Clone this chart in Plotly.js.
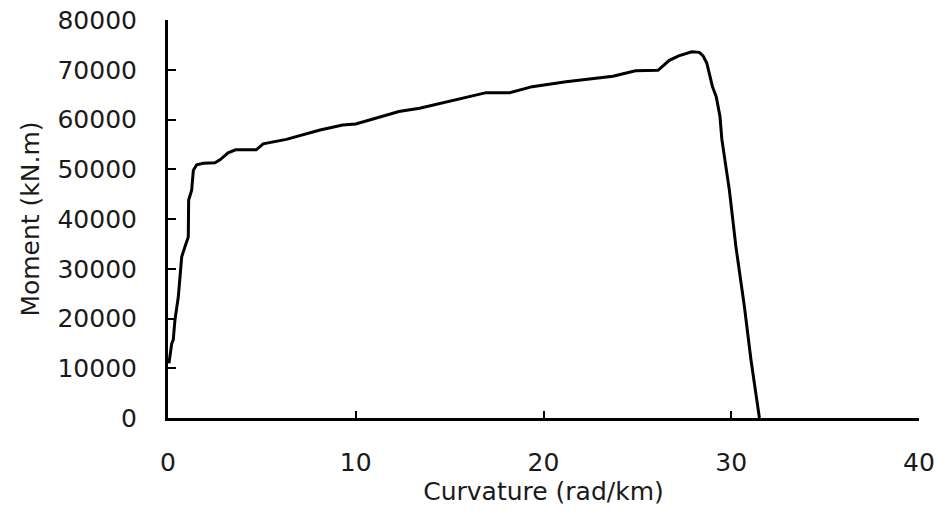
<!DOCTYPE html>
<html>
<head>
<meta charset="utf-8">
<script src="https://cdn.plot.ly/plotly-3.0.1.min.js"></script>
<style>html,body{margin:0;padding:0;background:#fff;}#chart{width:936px;height:516px;}</style>
</head>
<body>
<div id="chart"></div>
<script>
const curvature = [0.05, 0.2, 0.28, 0.37, 0.55, 0.73, 0.9, 1.08, 1.1, 1.26, 1.35, 1.53, 1.88, 2.5, 2.77, 3.2, 3.6, 4.7, 5.07, 5.4, 6.3, 8.1, 9.3, 10.0, 11.6, 12.3, 13.4, 14.1, 15.5, 16.95, 18.2, 19.4, 21.2, 23.0, 23.7, 24.9, 26.1, 26.7, 27.2, 27.9, 28.3, 28.5, 28.7, 29.0, 29.2, 29.4, 29.5, 29.9, 30.25, 30.7, 31.05, 31.5];
const moment = [11000, 15000, 15700, 19700, 24400, 32400, 34400, 36400, 43800, 45800, 49800, 50900, 51200, 51300, 51900, 53300, 53900, 53900, 55100, 55300, 56000, 57900, 58900, 59100, 60900, 61600, 62250, 62900, 64060, 65400, 65400, 66600, 67600, 68500, 68700, 69800, 69900, 71900, 72800, 73600, 73500, 72800, 71300, 66600, 64600, 60600, 56000, 45800, 34400, 22400, 11700, 0];
const xTicks = [0, 10, 20, 30, 40];
const yTicks = [0, 10000, 20000, 30000, 40000, 50000, 60000, 70000, 80000];
const xTitle = 'Curvature (rad/km)';
const yTitle = 'Moment (kN.m)';

const fontFam = 'DejaVu Sans, Liberation Sans, Arial, sans-serif';
const trace = {
  x: curvature, y: moment, type: 'scatter', mode: 'lines',
  line: {color: '#000', width: 3}, hoverinfo: 'none', showlegend: false
};
const layout = {
  width: 936, height: 516,
  margin: {l: 168, r: 17, t: 20, b: 98},
  paper_bgcolor: '#fff', plot_bgcolor: '#fff',
  font: {family: fontFam, size: 25, color: '#1a1a1a'},
  xaxis: {
    range: [0, 40], tickvals: xTicks, ticktext: xTicks.map(String),
    showgrid: false, zeroline: false, showline: true, linecolor: '#000', linewidth: 3,
    ticks: 'inside', ticklen: 7, tickwidth: 2, tickcolor: '#000',
    ticklabelstandoff: 20,
    title: {text: xTitle, font: {family: fontFam, size: 25, color: '#1a1a1a'}, standoff: 5}
  },
  yaxis: {
    range: [0, 80000], tickvals: yTicks, ticktext: yTicks.map(String),
    showgrid: false, zeroline: false, showline: true, linecolor: '#000', linewidth: 3,
    ticks: 'inside', ticklen: 8, tickwidth: 2, tickcolor: '#000',
    ticklabelstandoff: 23,
    title: {text: yTitle, font: {family: fontFam, size: 25, color: '#1a1a1a'}, standoff: 11}
  }
};
Plotly.newPlot('chart', [trace], layout, {displayModeBar: false, staticPlot: true});
</script>
</body>
</html>
